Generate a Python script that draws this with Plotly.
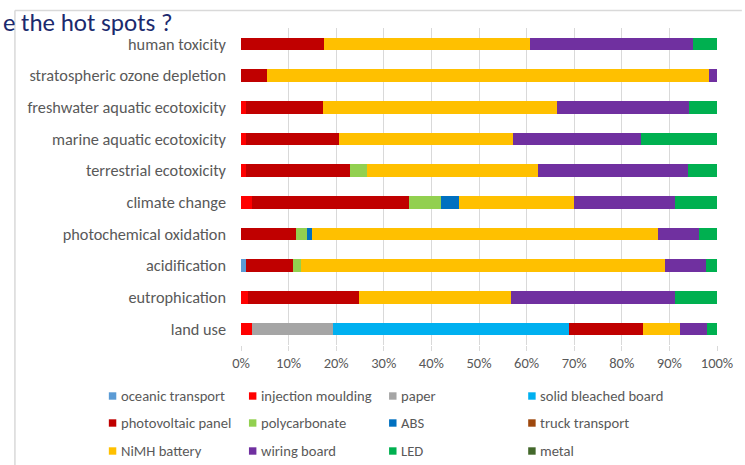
import plotly.graph_objects as go

categories = ["human toxicity", "stratospheric ozone depletion", "freshwater aquatic ecotoxicity",
              "marine aquatic ecotoxicity", "terrestrial ecotoxicity", "climate change",
              "photochemical oxidation", "acidification", "eutrophication", "land use"]

series_names = ["oceanic transport", "injection moulding", "paper", "solid bleached board",
                "photovoltaic panel", "polycarbonate", "ABS", "truck transport",
                "NiMH battery", "wiring board", "LED", "metal"]

oceanic_transport = [0, 0, 0, 0, 0, 0, 0, 1.0, 0, 0]
injection_moulding = [0, 0, 1.0, 1.0, 1.1, 2.3, 0, 0, 1.5, 2.4]
paper = [0, 0, 0, 0, 0, 0, 0, 0, 0, 17.0]
solid_bleached_board = [0, 0, 0, 0, 0, 0, 0, 0, 0, 49.6]
photovoltaic_panel = [17.5, 5.5, 16.3, 19.6, 21.7, 33.0, 11.6, 9.9, 23.3, 15.4]
polycarbonate = [0, 0, 0, 0, 3.7, 6.8, 2.2, 1.6, 0, 0]
abs_ = [0, 0, 0, 0, 0, 3.8, 1.1, 0, 0, 0]
truck_transport = [0, 0, 0, 0, 0, 0, 0, 0, 0, 0]
nimh_battery = [43.2, 92.8, 49.1, 36.5, 35.9, 24.0, 72.8, 76.5, 31.9, 7.9]
wiring_board = [34.3, 1.7, 27.8, 27.0, 31.6, 21.3, 8.5, 8.6, 34.5, 5.5]
led = [5.0, 0, 5.8, 15.9, 6.0, 8.8, 3.8, 2.4, 8.8, 2.2]
metal = [0, 0, 0, 0, 0, 0, 0, 0, 0, 0]

series_values = [oceanic_transport, injection_moulding, paper, solid_bleached_board,
                 photovoltaic_panel, polycarbonate, abs_, truck_transport,
                 nimh_battery, wiring_board, led, metal]

colors = ["#5B9BD5", "#FF0000", "#A5A5A5", "#00B0F0", "#C00000", "#92D050",
          "#0070C0", "#9E480E", "#FFC000", "#7030A0", "#00B050", "#43682B"]

x_ticks = list(range(0, 101, 10))
x_tick_labels = [f"{v}%" for v in x_ticks]

FONT = "Carlito, Calibri, Lato, sans-serif"
TXT = "#595959"

W_, H_ = 745, 465
L, R, T, B = 241, 720, 28, 345
PW, PH = R - L, B - T


def xp(px):
    return (px - L) / PW


def yp(py):
    return (B - py) / PH


fig = go.Figure()
for name, vals, col in zip(series_names, series_values, colors):
    fig.add_trace(go.Bar(
        y=categories, x=vals, name=name, orientation="h",
        marker=dict(color=col, line=dict(width=0)),
        showlegend=False,
    ))

shapes = []
annotations = []

# frame of the slide chart
shapes.append(dict(type="line", xref="paper", yref="paper",
                   x0=xp(13.5), x1=xp(745), y0=yp(10.5), y1=yp(10.5),
                   line=dict(color="#D9D9D9", width=1.5)))
shapes.append(dict(type="line", xref="paper", yref="paper",
                   x0=xp(13.5), x1=xp(13.5), y0=yp(10.5), y1=yp(465),
                   line=dict(color="#D9D9D9", width=1.5)))

# manual legend (3 rows x 4 columns)
col_marker_x = [108, 249, 390, 530]
row_y = [396, 423, 451]
for i, (name, col) in enumerate(zip(series_names, colors)):
    r, c = divmod(i, 4)
    mx = col_marker_x[c]
    my = row_y[r]
    shapes.append(dict(type="rect", xref="paper", yref="paper",
                       x0=xp(mx), x1=xp(mx + 7.5), y0=yp(my + 3.7), y1=yp(my - 3.7),
                       fillcolor=col, line=dict(width=0)))
    annotations.append(dict(text=name, xref="paper", yref="paper",
                            x=xp(mx + 10), y=yp(my), xanchor="left", yanchor="middle",
                            showarrow=False, font=dict(family=FONT, size=14.6, color=TXT)))

# partial slide title
annotations.append(dict(text="e the hot spots ?", xref="paper", yref="paper",
                        x=xp(0), y=yp(6), xanchor="left", yanchor="top",
                        showarrow=False, borderpad=0,
                        font=dict(family=FONT, size=25, color="#1B2A6E")))

fig.update_layout(
    width=W_, height=H_,
    barmode="stack", bargap=0.6,
    margin=dict(l=L, r=W_ - R, t=T, b=H_ - B),
    paper_bgcolor="white", plot_bgcolor="white",
    shapes=shapes, annotations=annotations,
    font=dict(family=FONT, color=TXT),
    xaxis=dict(range=[0, 100], tickvals=x_ticks, ticktext=x_tick_labels,
               showgrid=True, gridcolor="#D9D9D9", gridwidth=1, zeroline=False,
               showline=False, ticks="outside", ticklen=5, tickcolor="#D9D9D9",
               tickfont=dict(family=FONT, size=14.5, color=TXT)),
    yaxis=dict(autorange="reversed", showgrid=False, zeroline=False, showline=False,
               ticks="", ticklabelstandoff=14,
               tickfont=dict(family=FONT, size=16.3, color=TXT)),
)

fig.write_html("out.html")
